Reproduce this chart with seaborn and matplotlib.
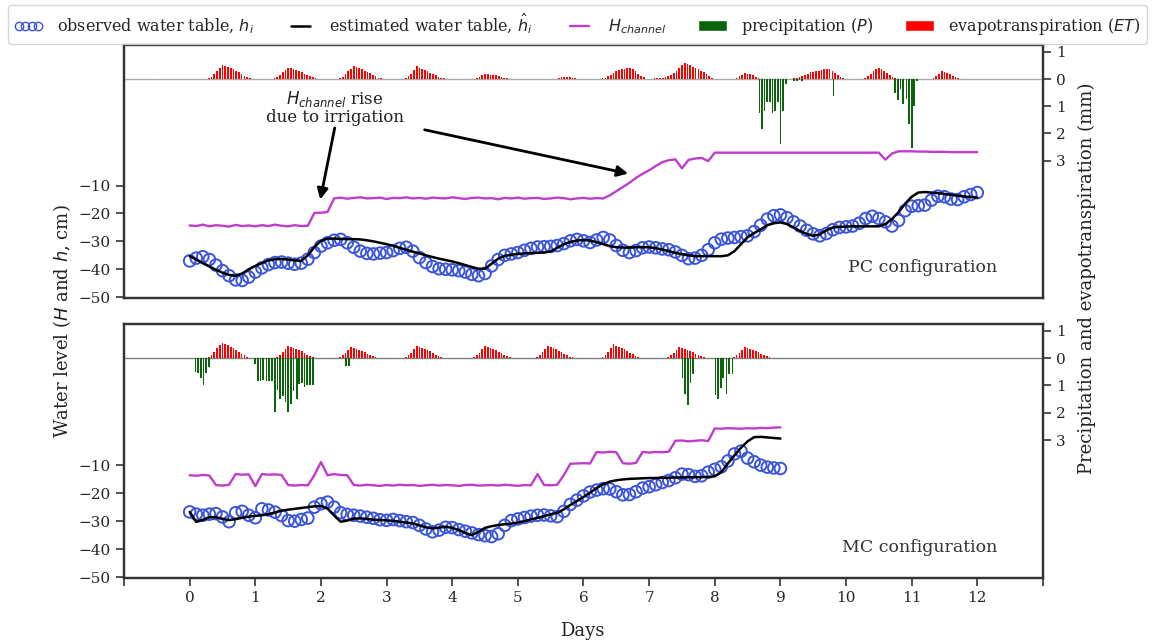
import numpy as np
import pandas as pd
import matplotlib
matplotlib.use("Agg")
import matplotlib.pyplot as plt
import seaborn as sns
from matplotlib.lines import Line2D
from matplotlib.patches import Patch

# ---------------- data ----------------
days_pc = np.round(np.arange(0, 121) * 0.1, 1)
days_mc = np.round(np.arange(0, 91) * 0.1, 1)

obs_pc = [-37.0, -36.0, -35.5, -36.5, -38.5, -40.5, -42.3, -43.8, -44.0, -42.8,
          -41.0, -39.5, -38.3, -37.6, -37.4, -37.8, -38.2, -37.8, -36.4, -34.0,
          -31.7, -30.5, -29.6, -29.3, -30.5, -32.1, -33.5, -34.3, -34.5, -34.2,
          -34.0, -33.3, -32.5, -32.1, -33.5, -35.8, -37.6, -39.0, -39.8, -40.0,
          -40.2, -40.5, -41.0, -41.8, -42.3, -41.5, -38.8, -36.5, -35.0, -34.5,
          -34.0, -33.2, -32.5, -32.0, -31.9, -31.8, -31.5, -30.8, -29.8, -29.3,
          -29.8, -30.4, -29.5, -28.6, -29.5, -31.5, -33.2, -34.0, -33.3, -32.3,
          -32.0, -32.3, -32.7, -33.0, -33.8, -35.0, -36.2, -36.0, -35.0, -33.0,
          -30.5, -29.2, -28.8, -28.6, -28.3, -28.0, -26.5, -24.2, -22.0, -20.8,
          -20.5, -21.5, -23.0, -24.5, -26.0, -27.3, -28.0, -27.2, -25.8, -25.0,
          -24.8, -24.5, -23.5, -21.8, -21.0, -21.8, -23.0, -24.5, -22.5, -19.0,
          -17.4, -17.2, -17.0, -15.2, -13.8, -14.0, -14.8, -15.0, -14.0, -13.2,
          -12.5]

est_pc = [-35.3, -36.5, -37.8, -39.0, -40.2, -41.2, -42.0, -42.4, -41.5, -40.0,
          -38.8, -37.8, -36.8, -36.4, -36.3, -36.5, -36.8, -37.0, -35.0, -32.0,
          -29.8, -29.0, -29.0, -29.1, -29.2, -29.2, -29.3, -29.6, -30.0, -30.5,
          -31.0, -31.6, -32.3, -33.0, -33.7, -34.3, -35.0, -35.6, -36.2, -36.7,
          -37.2, -37.8, -38.5, -39.2, -39.8, -39.8, -38.0, -36.2, -35.2, -34.8,
          -34.5, -34.3, -34.2, -34.1, -34.0, -33.6, -32.3, -31.0, -30.2, -29.7,
          -29.5, -29.7, -30.3, -31.0, -31.7, -32.1, -32.2, -32.2, -32.1, -32.1,
          -32.1, -32.4, -32.9, -33.5, -34.1, -34.6, -35.0, -35.3, -35.3, -35.3,
          -35.3, -35.3, -35.0, -33.5, -31.0, -28.5, -27.0, -25.7, -24.2, -23.5,
          -23.2, -23.8, -25.0, -26.3, -27.3, -28.0, -27.5, -26.0, -25.0, -24.8,
          -24.7, -24.6, -24.6, -24.6, -24.6, -24.6, -23.8, -22.0, -19.5, -16.5,
          -14.0, -12.5, -12.3, -12.5, -12.7, -13.0, -13.3, -13.6, -13.9, -14.1,
          -14.3]

hch_pc = [-24.3, -24.5, -24.0, -24.6, -24.2, -24.4, -24.7, -24.1, -24.5, -24.3,
          -24.6, -24.2, -24.5, -24.0, -24.4, -24.6, -24.2, -24.5, -24.4,
          -19.8, -19.7, -19.5, -14.6,
          -14.3, -14.7, -14.4, -14.2, -14.6, -14.5, -14.3, -14.8, -14.4, -14.5,
          -14.2, -14.6, -14.4, -14.7, -14.3, -14.5, -14.6, -14.2, -14.5, -14.8,
          -14.4, -14.3, -14.6, -14.5, -14.9, -14.4, -14.6, -14.3, -14.7, -14.5,
          -14.4, -14.8, -14.6, -14.3, -14.5, -14.9, -14.6, -14.4, -14.7, -14.5,
          -14.6,
          -13.5, -12.0, -10.5, -9.0, -7.2, -5.8, -4.5, -3.0, -1.6, -0.9,
          -0.6, -3.8, -0.8, -0.3, -0.1, -1.2,
          1.8, 1.8, 1.8, 1.8, 1.8, 1.8, 1.8, 1.8, 1.8, 1.8,
          1.8, 1.8, 1.8, 1.8, 1.8, 1.8, 1.8, 1.8, 1.8, 1.8,
          1.8, 1.8, 1.8, 1.8, 1.8, 1.8,
          -0.7,
          1.5, 2.3, 2.3, 2.3, 2.2, 2.2, 2.1, 2.1, 2.1, 2.0, 2.0, 2.0, 2.0, 2.0]

obs_mc = [-26.7, -27.5, -27.9, -27.5, -27.3, -28.5, -30.2, -27.0, -26.5, -27.9,
          -28.8, -25.6, -26.0, -26.8, -28.0, -29.8, -30.0, -29.4, -28.9, -25.0,
          -23.8, -23.2, -25.0, -27.0, -27.6, -27.9, -28.2, -28.6, -29.0, -29.5,
          -29.7, -29.4, -29.8, -30.2, -30.5, -31.5, -32.8, -33.8, -33.2, -32.2,
          -32.3, -33.0, -33.6, -34.2, -34.8, -35.2, -35.5, -34.5, -31.5, -29.8,
          -29.2, -28.7, -28.2, -27.9, -27.8, -28.1, -28.4, -26.5, -24.0, -22.5,
          -21.0, -19.6, -18.9, -18.4, -18.5, -19.5, -20.6, -20.5, -19.5, -18.2,
          -17.7, -17.0, -16.2, -15.5, -14.5, -13.2, -13.4, -14.0, -13.8, -12.5,
          -11.5, -10.6, -8.5, -6.0, -5.0, -7.5, -8.8, -10.0, -10.7, -11.0,
          -11.2]

est_mc = [-26.7, -30.3, -29.5, -28.6, -28.6, -29.2, -29.6, -29.3, -28.8, -28.4,
          -28.1, -27.9, -27.5, -26.9, -26.3, -25.9, -25.6, -25.3, -25.0, -24.7,
          -24.6, -25.5, -28.0, -30.2, -29.8, -29.1, -29.0, -29.2, -29.5, -29.6,
          -29.7, -29.9, -30.2, -30.5, -30.8, -31.5, -32.2, -32.6, -32.3, -32.0,
          -32.4, -33.2, -34.2, -35.0, -33.8, -32.4, -31.8, -31.4, -31.1, -30.9,
          -30.5, -30.0, -29.4, -28.8, -28.2, -27.6, -27.0, -25.8, -24.2, -22.8,
          -21.4, -19.8, -18.2, -16.8, -15.9, -15.4, -15.1, -14.9, -14.8, -14.7,
          -14.6, -14.6, -14.5, -14.5, -14.4, -14.4, -14.3, -14.3, -14.3, -14.2,
          -14.0, -12.5, -9.4, -6.5, -3.8, -1.5, 0.0, 0.1, -0.1, -0.3,
          -0.5]

hch_mc = [-13.6, -13.8, -13.5, -13.7, -17.1, -17.3, -17.0, -13.2, -13.4, -13.3,
          -17.5, -13.2, -13.4, -13.3, -13.5, -17.1, -17.3, -17.1, -17.2, -13.6,
          -8.9, -13.6, -13.2, -13.5, -13.6,
          -17.1, -17.3, -17.0, -17.2, -17.4, -17.1, -17.3, -17.0, -17.2, -17.1,
          -17.4, -17.2, -17.0, -17.3, -17.1, -17.2, -17.4, -17.1, -17.0, -17.3,
          -17.2, -17.1, -17.3, -17.0, -17.2, -17.4, -17.1, -17.2,
          -13.2, -17.1, -17.2, -17.0, -13.6,
          -9.5, -9.4, -9.3, -9.4, -5.3, -5.5, -5.2, -5.4, -9.3, -9.5, -9.2,
          -5.3, -5.5, -5.3, -5.4, -5.2, -1.3, -1.2, -1.5, -1.3, -1.1, -1.4,
          3.1, 3.0, 3.2, 3.1, 3.0, 3.2, 3.1, 3.3, 3.2, 3.4, 3.5]

# evapotranspiration (mm), hourly bars; first hour of each day's bars
et_pc_start_hour = [7, 7, 7, 7, 9, 15, 7, 2, 8, 5, 7, 8]
et_pc_values = [
    [0.03, 0.08, 0.18, 0.30, 0.42, 0.52, 0.48, 0.44, 0.40, 0.35, 0.30, 0.24, 0.18, 0.12, 0.07, 0.03],
    [0.02, 0.07, 0.15, 0.25, 0.34, 0.41, 0.39, 0.36, 0.33, 0.29, 0.25, 0.20, 0.15, 0.10, 0.06, 0.02],
    [0.03, 0.08, 0.17, 0.28, 0.38, 0.46, 0.44, 0.40, 0.36, 0.31, 0.26, 0.21, 0.15, 0.10, 0.05, 0.02],
    [0.03, 0.10, 0.20, 0.32, 0.46, 0.42, 0.38, 0.33, 0.28, 0.23, 0.18, 0.13, 0.08, 0.05, 0.02],
    [0.03, 0.08, 0.14, 0.19, 0.17, 0.16, 0.15, 0.13, 0.11, 0.08, 0.05, 0.03],
    [0.03, 0.06, 0.07, 0.07, 0.06, 0.05, 0.03],
    [0.02, 0.05, 0.10, 0.16, 0.22, 0.28, 0.33, 0.36, 0.38, 0.39, 0.40, 0.38, 0.30, 0.20, 0.12, 0.06],
    [0.02, 0.02, 0.03, 0.05, 0.07, 0.10, 0.15, 0.22, 0.30, 0.40, 0.50, 0.58, 0.55, 0.50, 0.45, 0.40,
     0.35, 0.30, 0.24, 0.17, 0.10, 0.04],
    [0.04, 0.10, 0.16, 0.22, 0.20, 0.17, 0.13, 0.08, 0.04],
    [0.02, 0.04, 0.06, 0.10, 0.15, 0.20, 0.24, 0.27, 0.29, 0.31, 0.33, 0.35, 0.37, 0.36, 0.30, 0.22,
     0.14, 0.07, 0.03],
    [0.04, 0.10, 0.18, 0.28, 0.36, 0.40, 0.36, 0.30, 0.22, 0.15, 0.08, 0.04],
    [0.05, 0.12, 0.20, 0.28, 0.26, 0.22, 0.17, 0.12, 0.07, 0.03],
]
et_mc_start_hour = [7, 8, 7, 7, 8, 7, 7, 7, 7]
et_mc_values = [
    [0.04, 0.12, 0.24, 0.36, 0.48, 0.56, 0.52, 0.47, 0.42, 0.37, 0.31, 0.24, 0.17, 0.10, 0.04],
    [0.04, 0.12, 0.22, 0.33, 0.44, 0.41, 0.38, 0.34, 0.30, 0.25, 0.19, 0.13, 0.08, 0.04],
    [0.03, 0.10, 0.20, 0.30, 0.41, 0.38, 0.35, 0.31, 0.27, 0.22, 0.17, 0.12, 0.08, 0.04],
    [0.03, 0.10, 0.20, 0.32, 0.44, 0.41, 0.38, 0.34, 0.30, 0.25, 0.19, 0.13, 0.08, 0.04],
    [0.03, 0.10, 0.20, 0.32, 0.44, 0.40, 0.37, 0.33, 0.29, 0.24, 0.18, 0.12, 0.07, 0.03],
    [0.03, 0.10, 0.21, 0.33, 0.44, 0.41, 0.37, 0.33, 0.28, 0.23, 0.17, 0.11, 0.06, 0.03],
    [0.04, 0.12, 0.24, 0.37, 0.50, 0.46, 0.42, 0.37, 0.32, 0.26, 0.20, 0.14, 0.08, 0.04],
    [0.03, 0.10, 0.20, 0.31, 0.41, 0.38, 0.35, 0.31, 0.27, 0.22, 0.17, 0.12, 0.07, 0.03],
    [0.03, 0.10, 0.20, 0.31, 0.41, 0.38, 0.35, 0.31, 0.27, 0.22, 0.17, 0.12, 0.07, 0.03],
]

# precipitation (mm)
p_pc_days = [8.68, 8.72, 8.76, 8.80, 8.84, 8.88, 8.92, 8.96, 9.00, 9.04, 9.08,
             9.21, 9.25, 9.29, 9.33, 9.81,
             10.75, 10.79, 10.83, 10.87, 10.92, 10.96, 11.00, 11.04, 11.08]
p_pc_mm = [1.26, 1.85, 1.17, 0.86, 0.86, 1.26, 1.17, 0.86, 2.40, 1.17, 0.18,
           0.06, 0.06, 0.05, 0.06, 0.63,
           0.52, 0.77, 0.37, 0.93, 0.75, 1.67, 2.55, 0.99, 0.06]
p_mc_days = [0.09, 0.13, 0.17, 0.21, 0.25, 0.29,
             1.00, 1.04, 1.08, 1.12, 1.17, 1.21, 1.25, 1.30, 1.34, 1.38, 1.42,
             1.46, 1.50, 1.54, 1.58, 1.63, 1.67, 1.71, 1.75, 1.79, 1.83, 1.88,
             2.38, 2.43,
             7.51, 7.55, 7.59, 7.63, 7.67,
             8.01, 8.05, 8.09, 8.13, 8.18, 8.22, 8.27]
p_mc_mm = [0.50, 0.55, 0.72, 1.00, 0.55, 0.32,
           0.22, 0.84, 0.84, 0.80, 0.84, 0.84, 0.84, 1.98, 1.15, 1.50, 1.38,
           1.62, 1.98, 1.68, 1.20, 1.50, 0.95, 0.90, 1.06, 1.00, 0.98, 0.98,
           0.29, 0.29,
           0.72, 1.30, 1.71, 0.90, 0.58,
           1.35, 1.49, 1.10, 0.72, 1.30, 0.58, 0.58]

x_ticks = list(range(-1, 14))
x_tick_labels = [""] + [str(i) for i in range(0, 13)] + [""]
left_ticks = [-50, -40, -30, -20, -10]
right_ticks = [-1, 0, 1, 2, 3]
right_tick_labels = ["1", "0", "1", "2", "3"]

# ---------------- style ----------------
sns.set_theme(style="ticks")
plt.rcParams["font.family"] = ["DejaVu Serif"]
plt.rcParams["mathtext.fontset"] = "dejavusans"

BLUE = "#3b55d9"
MAG = "#c03ccb"
GREEN = "#0b640b"
RED = "#ff0000"
SPINE = "#333333"

fig = plt.figure(figsize=(11.56, 6.42), dpi=100)
ax_top = fig.add_axes([0.1073, 0.5358, 0.7949, 0.3941])
ax_bot = fig.add_axes([0.1073, 0.0997, 0.7949, 0.3956])


def et_bars(start_hours, values):
    tt, vv = [], []
    for d, (h0, vals) in enumerate(zip(start_hours, values)):
        for k, v in enumerate(vals):
            tt.append(d + (h0 + k) / 24.0)
            vv.append(v)
    return np.array(tt), np.array(vv)


def draw_panel(ax, days, obs, est, hch, et_start, et_vals, p_days, p_mm, label, zero_col):
    df = pd.DataFrame({"day": days, "obs": obs, "est": est, "hch": hch})
    sns.lineplot(data=df, x="day", y="hch", ax=ax, color=MAG, lw=1.7, zorder=2)
    sns.scatterplot(data=df, x="day", y="obs", ax=ax, marker="o", s=70,
                    facecolor="none", edgecolor=BLUE, linewidth=1.4, zorder=3)
    sns.lineplot(data=df, x="day", y="est", ax=ax, color="black", lw=1.8, zorder=4)
    ax.set_xlim(-1, 13)
    ax.set_ylim(-50.3, 40.4)
    ax.set_yticks(left_ticks)
    ax.set_xlabel("")
    ax.set_ylabel("")
    ax.tick_params(axis="y", labelsize=11, length=6, width=1.2, color=SPINE)
    for s in ax.spines.values():
        s.set_visible(True)
        s.set_color(SPINE)
        s.set_linewidth(1.6)
    ax.text(0.95, 0.12, label, transform=ax.transAxes, ha="right", va="center",
            fontsize=12.5, color="#333333")

    axr = ax.twinx()
    et_t, et_v = et_bars(et_start, et_vals)
    axr.bar(et_t, -et_v, width=0.026, color=RED, linewidth=0)
    axr.bar(p_days, p_mm, width=0.026, color=GREEN, linewidth=0)
    axr.axhline(0, color=zero_col, lw=1.0, zorder=0)
    axr.set_ylim(8.05, -1.25)
    axr.set_yticks(right_ticks)
    axr.set_yticklabels(right_tick_labels)
    axr.tick_params(axis="y", labelsize=11, length=6, width=1.2, color=SPINE)
    for s in axr.spines.values():
        s.set_color(SPINE)
        s.set_linewidth(1.6)
    axr.set_xlim(-1, 13)
    return axr


draw_panel(ax_top, days_pc, obs_pc, est_pc, hch_pc, et_pc_start_hour, et_pc_values,
           p_pc_days, p_pc_mm, "PC configuration", "#aaaaaa")
draw_panel(ax_bot, days_mc, obs_mc, est_mc, hch_mc, et_mc_start_hour, et_mc_values,
           p_mc_days, p_mc_mm, "MC configuration", "#808080")

ax_top.tick_params(axis="x", bottom=False, labelbottom=False)
ax_bot.set_xticks(x_ticks)
ax_bot.set_xticklabels(x_tick_labels)
ax_bot.tick_params(axis="x", labelsize=11, length=6, width=1.2, color=SPINE)

# annotation
ax_top.text(2.21, 17.9, "$H_{channel}$ rise\ndue to irrigation", ha="center", va="center",
            fontsize=12, color="#222222", linespacing=1.0)
arrow = dict(arrowstyle="-|>", color="black", lw=2.0, mutation_scale=16, shrinkA=0, shrinkB=0)
ax_top.annotate("", xy=(1.99, -15.0), xytext=(2.21, 10.7), arrowprops=arrow)
ax_top.annotate("", xy=(6.68, -5.7), xytext=(3.58, 10.0), arrowprops=arrow)

fig.text(0.504, 0.017, "Days", ha="center", va="center", fontsize=13, color="#222222")
fig.text(0.054, 0.5, "Water level ($H$ and $h$, cm)", rotation=90, ha="center",
         va="center", fontsize=13, color="#222222")
fig.text(0.94, 0.567, "Precipitation and evapotranspiration (mm)", rotation=90,
         ha="center", va="center", fontsize=13, color="#222222")

handles = [
    Line2D([], [], marker="o", ls="none", mfc="none", mec=BLUE, ms=6, mew=1.0),
    Line2D([], [], color="black", lw=1.8),
    Line2D([], [], color=MAG, lw=1.7),
    Patch(facecolor=GREEN),
    Patch(facecolor=RED),
]
labels = ["observed water table, $h_i$", "estimated water table, $\\hat{h}_i$",
          "$H_{channel}$", "precipitation ($P$)", "evapotranspiration ($ET$)"]
fig.legend(handles, labels, loc="upper left", bbox_to_anchor=(0.004, 0.997), ncol=5,
           numpoints=4, fontsize=11.5, frameon=True, fancybox=True, edgecolor="#cccccc",
           columnspacing=2.0, handlelength=1.8, handletextpad=0.9, borderaxespad=0.2)

fig.savefig("out.png", dpi=100)
